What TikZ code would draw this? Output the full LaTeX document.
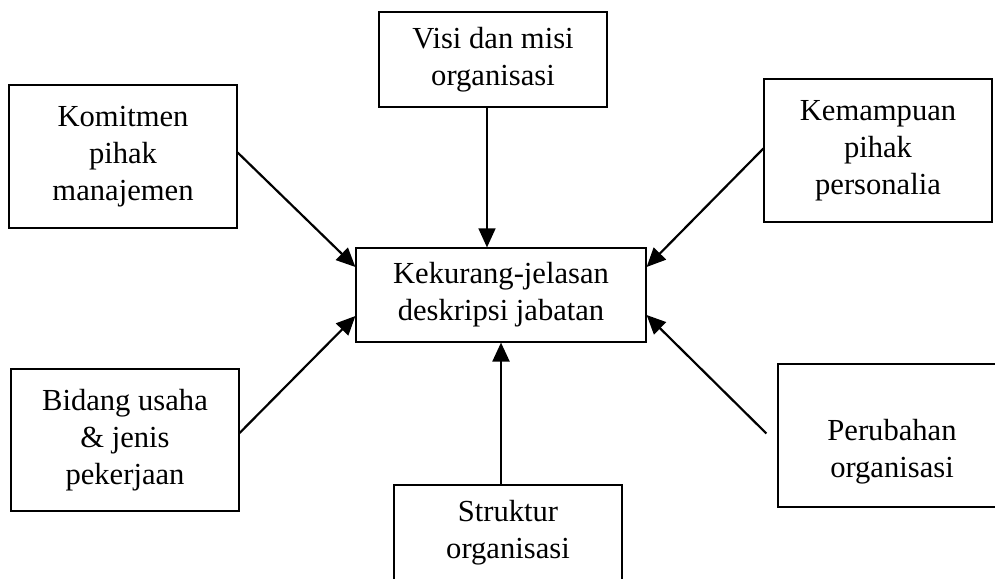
\documentclass[tikz,border=0pt]{standalone}
\usepackage{fontspec}
\setmainfont{Liberation Serif}
\usetikzlibrary{arrows.meta}
\tikzset{
  factor/.style={draw, line width=0.6pt, align=center, minimum width=114pt,
                 inner sep=2pt, font=\fontsize{15.3}{18.4}\selectfont},
  flow/.style={-{Triangle[length=9.5pt,width=8.5pt]}, line width=1.1pt},
}
\begin{document}
\begin{tikzpicture}[x=0.5pt, y=-0.5pt]
  \useasboundingbox (0,0) rectangle (995,578);
  \node[factor, minimum height=47.5pt] (vm) at (493,59.5)  {Visi dan misi\\organisasi};
  \node[factor, minimum height=71.5pt] (km) at (123,156.5) {Komitmen\\pihak\\manajemen};
  \node[factor, minimum height=71.5pt] (kp) at (878,150.5) {Kemampuan\\pihak\\personalia};
  \node[factor, minimum width=145pt, minimum height=47pt] (kj) at (501,295)
        {Kekurang-jelasan\\deskripsi jabatan};
  \node[factor, minimum height=71pt] (bu) at (125,440)   {Bidang usaha\\\& jenis\\pekerjaan};
  \node[factor, minimum height=47.5pt] (so) at (508,532.5) {Struktur\\organisasi};
  \node[factor, minimum height=71.5pt, text height=45pt] (po) at (892,435.5) {Perubahan\\organisasi};
  \draw[flow, line width=0.7pt] ([xshift=-3pt]vm.south) -- ([xshift=-7pt]kj.north);
  \draw[flow] ([yshift=2pt]km.east) -- ([yshift=14pt]kj.west);
  \draw[flow] ([yshift=1pt]kp.west) -- ([yshift=14pt]kj.east);
  \draw[flow] ([yshift=3.5pt]bu.east) -- ([yshift=-10.5pt]kj.west);
  \draw[flow] (so.north -| kj.south) -- (kj.south);
  \draw[flow] ([xshift=-5.5pt,yshift=1pt]po.west) -- ([yshift=-10pt]kj.east);
\end{tikzpicture}
\end{document}
